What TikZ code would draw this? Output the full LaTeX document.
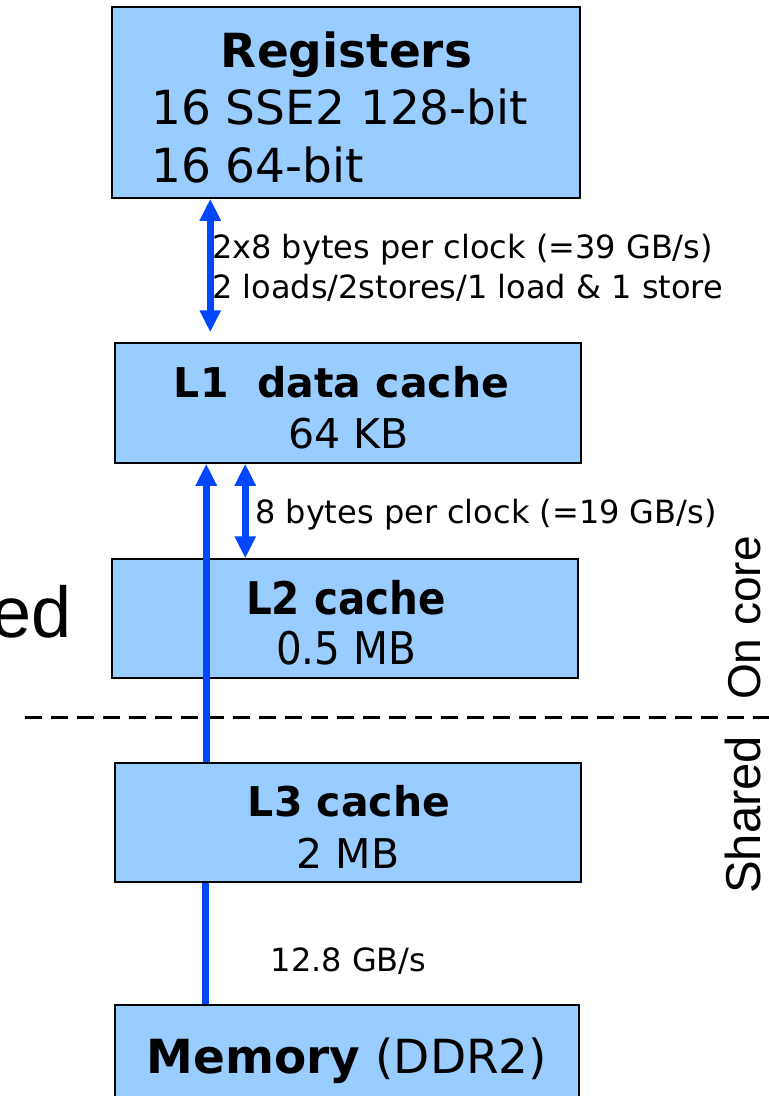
\documentclass[tikz,border=0pt]{standalone}
\usepackage{fontspec}
\setmainfont{DejaVu Sans}
\newfontfamily\condfont{DejaVu Sans Condensed}
\newfontfamily\arialfont{Liberation Sans}
\usetikzlibrary{arrows.meta}
\definecolor{boxblue}{RGB}{153,204,255}
\definecolor{linkblue}{RGB}{0,71,255}
\def\levels{{(346, 102.5)/regs/468/191}, {(348, 403)/l1/466/120}, {(345, 618.5)/l2/466/119}, {(348, 822.5)/l3/466/119}, {(347, 1057.5)/mem/464/105}}
\tikzstyle{level}=[draw=black, line width=1.5pt, fill=boxblue, inner sep=0pt]
\tikzstyle{big}=[inner sep=0pt, font=\fontsize{47}{56}\selectfont]
\tikzstyle{mid}=[inner sep=0pt, font=\fontsize{41}{49}\selectfont]
\tikzstyle{cond}=[inner sep=0pt, font=\condfont\fontsize{45}{54}\selectfont]
\tikzstyle{small}=[inner sep=0pt, font=\fontsize{32}{38}\selectfont]
\tikzstyle{aside}=[inner sep=0pt, font=\arialfont\fontsize{46}{55}\selectfont]
\tikzstyle{link}=[draw, line width=7pt, linkblue]
\tikzstyle{split}=[draw, line width=3pt, dash pattern=on 17pt off 9pt]

\begin{document}
\begin{tikzpicture}[x=1pt, y=-1pt,
  tip/.tip={Triangle[length=22pt, width=20pt]}]
  \useasboundingbox (0,0) rectangle (769,1096);

  % The memory levels
  \foreach \pos/\name/\bw/\bh in \levels {
    \node[level, minimum width=\bw pt, minimum height=\bh pt] (\name) at \pos {};
    }

  % Texts in the boxes
  \node[big, anchor=base] (regsTitle) at (346.5, 67) {\textbf{Registers}};
  \node[big, anchor=base west] (regsSse) at (151, 124) {16 SSE2 128-bit};
  \node[big, anchor=base west] (regsGpr) at (151, 182) {16 64-bit};
  \node[mid, anchor=base] (l1Title) at (341.5, 397) {\textbf{L1\ \ data cache}};
  \node[mid, anchor=base] (l1Size) at (348.5, 448) {64 KB};
  \node[cond, anchor=base] (l2Title) at (346, 614) {\textbf{L2 cache}};
  \node[cond, anchor=base] (l2Size) at (346, 664) {0.5 MB};
  \node[mid, anchor=base] (l3Title) at (349, 816) {\textbf{L3 cache}};
  \node[mid, anchor=base] (l3Size) at (348, 868) {2 MB};
  \node[big, anchor=base] (memTitle) at (347, 1073) {\textbf{Memory} (DDR2)};

  % Bandwidth labels
  \node[small, anchor=base west] (regsRate) at (212, 258) {2x8 bytes per clock (=39 GB/s)};
  \node[small, anchor=base west] (regsOps) at (212, 298) {2 loads/2stores/1 load \& 1 store};
  \node[small, anchor=base west] (l2Rate) at (255, 523) {8 bytes per clock (=19 GB/s)};
  \node[small, anchor=base] (memRate) at (348.5, 971) {12.8 GB/s};

  % Shared / on core split
  \node[aside, font=\arialfont\fontsize{72}{86}\selectfont, anchor=base east] (sharedLeft) at (72, 637) {ed};
  \node[aside, rotate=90, anchor=base west] (onCore) at (760, 700) {On core};
  \node[aside, font=\arialfont\fontsize{49}{58}\selectfont, rotate=90, anchor=base west] (sharedCore) at (760, 894) {Shared};
  \coordinate (splitL) at (25, 717);
  \coordinate (splitR) at (769, 717);
  \path[split] (splitL) -- (splitR);

  % The links
  \path[link, tip-tip, shorten >=10pt] ([xshift=99pt]regs.south west) -- ([xshift=96pt]l1.north west);
  \path[link, -tip] ([xshift=92pt]l3.north west) -- ([xshift=92pt]l1.south west);
  \path[link, tip-tip] ([xshift=131pt]l1.south west) -- ([xshift=134pt]l2.north west);
  \path[link] ([xshift=91pt]mem.north west) -- ([xshift=91pt]l3.south west);
\end{tikzpicture}
\end{document}
